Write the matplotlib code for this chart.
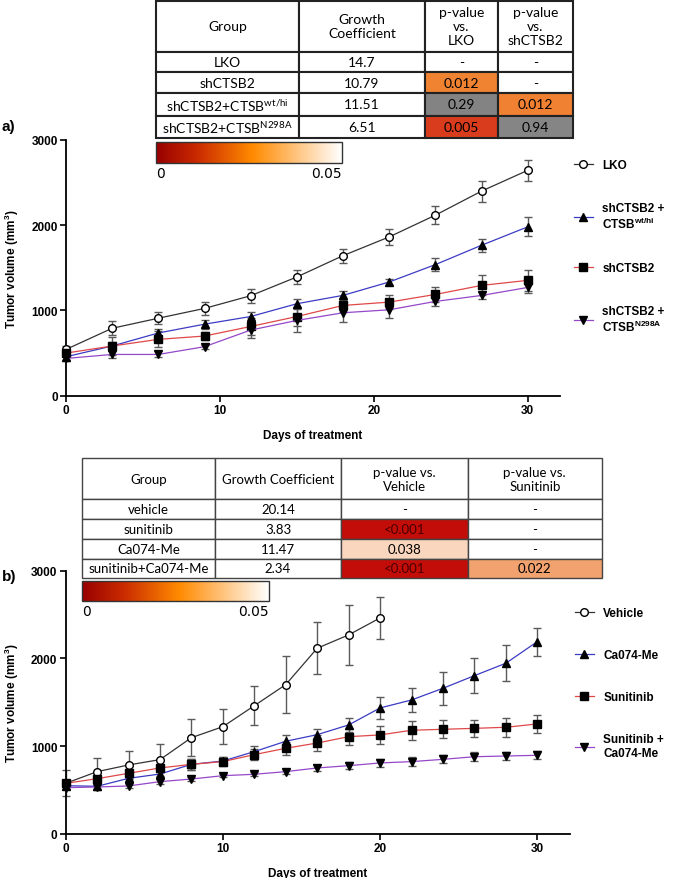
import matplotlib
matplotlib.use("Agg")
import matplotlib.pyplot as plt
from matplotlib.table import Table
from matplotlib.lines import Line2D
from matplotlib.colors import LinearSegmentedColormap, Normalize
from matplotlib.cm import ScalarMappable

plt.rcParams['font.family'] = ['Liberation Sans', 'DejaVu Sans']

# ---------------- data: panel a ----------------
days_a = [0, 3, 6, 9, 12, 15, 18, 21, 24, 27, 30]
lko = [543, 791, 909, 1024, 1173, 1393, 1643, 1863, 2118, 2400, 2644]
lko_err = [40, 80, 72, 80, 80, 82, 84, 96, 102, 123, 124]
wthi = [457, 583, 736, 839, 929, 1079, 1177, 1334, 1538, 1765, 1981]
wthi_err = [40, 50, 45, 55, 50, 50, 50, 30, 78, 75, 110]
shctsb2 = [500, 583, 661, 700, 812, 929, 1059, 1098, 1188, 1294, 1353]
shctsb2_err = [40, 100, 95, 50, 100, 110, 80, 80, 92, 118, 120]
n298a = [437, 484, 484, 575, 770, 883, 973, 1008, 1106, 1176, 1270]
n298a_err = [30, 40, 35, 25, 90, 140, 110, 100, 50, 40, 70]

# ---------------- data: panel b ----------------
days_vehicle = [0, 2, 4, 6, 8, 10, 12, 14, 16, 18, 20]
vehicle = [577, 710, 786, 847, 1097, 1222, 1461, 1701, 2115, 2267, 2460]
vehicle_err = [150, 152, 160, 182, 209, 197, 222, 326, 294, 340, 243]
days_b = [0, 2, 4, 6, 8, 10, 12, 14, 16, 18, 20, 22, 24, 26, 28, 30]
ca074 = [550, 543, 634, 683, 793, 831, 938, 1056, 1131, 1242, 1435, 1526, 1659, 1803, 1944, 2190]
ca074_err = [40, 40, 50, 50, 60, 50, 60, 67, 67, 84, 121, 140, 190, 201, 203, 158]
sunitinib = [577, 630, 691, 752, 793, 824, 904, 976, 1036, 1108, 1128, 1181, 1192, 1203, 1215, 1253]
sunitinib_err = [40, 40, 50, 50, 60, 50, 60, 75, 90, 90, 102, 108, 104, 100, 110, 104]
combo = [528, 535, 547, 596, 626, 664, 680, 710, 752, 778, 809, 824, 850, 880, 888, 896]
combo_err = [20, 20, 25, 25, 20, 20, 25, 25, 35, 40, 45, 50, 45, 50, 50, 45]

# ---------------- tables ----------------
table_a_header = ["Group", "Growth\nCoefficient", "p-value\nvs.\nLKO", "p-value\nvs.\nshCTSB2"]
table_a_groups = ["LKO", "shCTSB2", "shCTSB2+CTSB$^{\\mathregular{wt/hi}}$", "shCTSB2+CTSB$^{\\mathregular{N298A}}$"]
table_a_growth = ["14.7", "10.79", "11.51", "6.51"]
table_a_p_lko = ["-", "0.012", "0.29", "0.005"]
table_a_p_sh = ["-", "-", "0.012", "0.94"]

table_b_header = ["Group", "Growth Coefficient", "p-value vs.\nVehicle", "p-value vs.\nSunitinib"]
table_b_groups = ["vehicle", "sunitinib", "Ca074-Me", "sunitinib+Ca074-Me"]
table_b_growth = ["20.14", "3.83", "11.47", "2.34"]
table_b_p_veh = ["-", "<0.001", "0.038", "<0.001"]
table_b_p_sun = ["-", "-", "-", "0.022"]

# cell colours (style)
colors_a_p_lko = ["white", "#ef8332", "#838383", "#d93c1c"]
colors_a_p_sh = ["white", "white", "#f08132", "#858585"]
colors_b_p_veh = ["white", "#c20d08", "#fad6be", "#c20d08"]
colors_b_p_sun = ["white", "white", "white", "#f2a26e"]

W, H = 678, 879
fig = plt.figure(figsize=(W / 100, H / 100), dpi=100)


def rect(x0, y0, x1, y1):
    return [x0 / W, 1 - y1 / H, (x1 - x0) / W, (y1 - y0) / H]


cmap = LinearSegmentedColormap.from_list("pv", [(0, "#980000"), (0.22, "#c92a00"), (0.52, "#ff8a00"), (1, "#ffffff")])

line_kw = dict(lw=0.9, ms=5.5, mec="black", clip_on=False, zorder=3)
err_kw = dict(ecolor="#5a5a5a", elinewidth=1.0, capsize=2.6, capthick=1.0)


def style_axes(ax, xmax):
    ax.set_xlim(0, xmax)
    ax.set_ylim(0, 3000)
    for s in ["top", "right"]:
        ax.spines[s].set_visible(False)
    for s in ["left", "bottom"]:
        ax.spines[s].set_linewidth(1.3)
    ax.set_xticks([0, 10, 20, 30])
    ax.set_yticks([0, 1000, 2000, 3000])
    ax.tick_params(direction="out", length=4, width=1.2, labelsize=8.5, pad=2)
    for lab in ax.get_xticklabels() + ax.get_yticklabels():
        lab.set_fontweight("bold")
    ax.set_xlabel("Days of treatment", fontsize=8.5, fontweight="bold", labelpad=9)
    ax.set_ylabel("Tumor volume (mm$^{\\mathregular{3}}$)", fontsize=8.5, fontweight="bold", labelpad=7)
    ax.patch.set_alpha(0)


def draw_table(rectpx, header, cols, colors, widths, heights, fontsize, edge, lw):
    tax = fig.add_axes(rect(*rectpx))
    tax.axis("off")
    tbl = Table(tax, bbox=[0, 0, 1, 1])
    for c, txt in enumerate(header):
        tbl.add_cell(0, c, width=widths[c], height=heights[0], text=txt, loc="center", facecolor="white")
    nrows = len(cols[0])
    for r in range(nrows):
        for c in range(len(cols)):
            tbl.add_cell(r + 1, c, width=widths[c], height=heights[r + 1], text=cols[c][r],
                         loc="center", facecolor=colors[c][r])
    tbl.auto_set_font_size(False)
    tbl.set_fontsize(fontsize)
    for (r, c), cell in tbl.get_celld().items():
        cell.set_edgecolor(edge)
        cell.set_linewidth(lw)
        t = cell.get_text()
        t.set_fontfamily(["Lato", "DejaVu Sans"])
        t.set_linespacing(1.2)
        fc = cell.get_facecolor()
        if r > 0 and c >= 2 and sum(fc[:3]) < 1.2 and fc[0] > 0.6 and fc[1] < 0.2:
            t.set_color("#4a0000")
    tax.add_table(tbl)
    return tax


def draw_cbar(rectpx):
    cax = fig.add_axes(rect(*rectpx))
    cb = fig.colorbar(ScalarMappable(norm=Normalize(0, 0.05), cmap=cmap), cax=cax, orientation="horizontal")
    cb.set_ticks([0, 0.05])
    cb.set_ticklabels(["0", "0.05"])
    cax.tick_params(length=0, labelsize=10, pad=2)
    labs = cax.get_xticklabels()
    labs[0].set_ha("left")
    labs[1].set_ha("right")
    for lab in labs:
        lab.set_fontfamily("DejaVu Sans")
    cb.outline.set_linewidth(1.0)
    cb.outline.set_edgecolor("#333333")


# ---------------- panel a ----------------
ax1 = fig.add_axes(rect(66, 141, 560, 396.7))
series_a = [
    (days_a, lko, lko_err, "#333333", "o", "white", "LKO"),
    (days_a, wthi, wthi_err, "#3b3bc4", "^", "black", "shCTSB2 +\nCTSB$^{\\mathregular{wt/hi}}$"),
    (days_a, shctsb2, shctsb2_err, "#e04848", "s", "black", "shCTSB2"),
    (days_a, n298a, n298a_err, "#9548c8", "v", "black", "shCTSB2 +\nCTSB$^{\\mathregular{N298A}}$"),
]
handles = []
for x, y, e, col, mk, mfc, lab in series_a:
    eb = ax1.errorbar(x, y, yerr=e, fmt="none", zorder=2, **err_kw)
    for art in eb.lines[1] + eb.lines[2]:
        art.set_clip_on(False)
    ax1.plot(x, y, color=col, marker=mk, mfc=mfc, **line_kw)
    handles.append(Line2D([], [], color=col, marker=mk, mfc=mfc, mec="black", lw=0.9, ms=5.5))
style_axes(ax1, 32.1)
leg1 = ax1.legend(handles, [s[6] for s in series_a], loc="upper left",
                  bbox_to_anchor=(574 / W, 1 - 160 / H), bbox_transform=fig.transFigure,
                  frameon=False, handlelength=1.6, handletextpad=0.8, labelspacing=2.6,
                  borderpad=0, borderaxespad=0, prop=dict(size=8.5, weight="bold"))

# ---------------- panel b ----------------
ax2 = fig.add_axes(rect(65.7, 571.5, 570.3, 835))
series_b = [
    (days_vehicle, vehicle, vehicle_err, "#333333", "o", "white", "Vehicle"),
    (days_b, ca074, ca074_err, "#3b3bc4", "^", "black", "Ca074-Me"),
    (days_b, sunitinib, sunitinib_err, "#e04848", "s", "black", "Sunitinib"),
    (days_b, combo, combo_err, "#9548c8", "v", "black", "Sunitinib +\nCa074-Me"),
]
handles = []
for x, y, e, col, mk, mfc, lab in series_b:
    eb = ax2.errorbar(x, y, yerr=e, fmt="none", zorder=2, **err_kw)
    for art in eb.lines[1] + eb.lines[2]:
        art.set_clip_on(False)
    ax2.plot(x, y, color=col, marker=mk, mfc=mfc, **line_kw)
    handles.append(Line2D([], [], color=col, marker=mk, mfc=mfc, mec="black", lw=0.9, ms=5.5))
style_axes(ax2, 32.1)
leg2 = ax2.legend(handles, [s[6] for s in series_b], loc="upper left",
                  bbox_to_anchor=(575 / W, 1 - 608 / H), bbox_transform=fig.transFigure,
                  frameon=False, handlelength=1.6, handletextpad=0.8, labelspacing=2.55,
                  borderpad=0, borderaxespad=0, prop=dict(size=8.5, weight="bold"))

# ---------------- tables & colourbars ----------------
draw_table((156, 1.7, 573, 139.3), table_a_header,
           [table_a_groups, table_a_growth, table_a_p_lko, table_a_p_sh],
           [["white"] * 4, ["white"] * 4, colors_a_p_lko, colors_a_p_sh],
           [143, 126, 73, 75], [51.3, 20.3, 20.7, 22.7, 22.6], 10, "#222222", 1.5)
draw_cbar((156, 143, 342, 164))

draw_table((82, 459.3, 602, 578.7), table_b_header,
           [table_b_groups, table_b_growth, table_b_p_veh, table_b_p_sun],
           [["white"] * 4, ["white"] * 4, colors_b_p_veh, colors_b_p_sun],
           [133, 126, 126.5, 134.5], [40.7, 20, 20, 20, 18.7], 9.5, "#444444", 1.0)
draw_cbar((82, 581.7, 269, 602.3))

fig.text(2 / W, 1 - 127 / H, "a)", fontsize=11, fontweight="bold", ha="left", va="center")
fig.text(2 / W, 1 - 577 / H, "b)", fontsize=11, fontweight="bold", ha="left", va="center")

fig.savefig("out.png", dpi=100)
